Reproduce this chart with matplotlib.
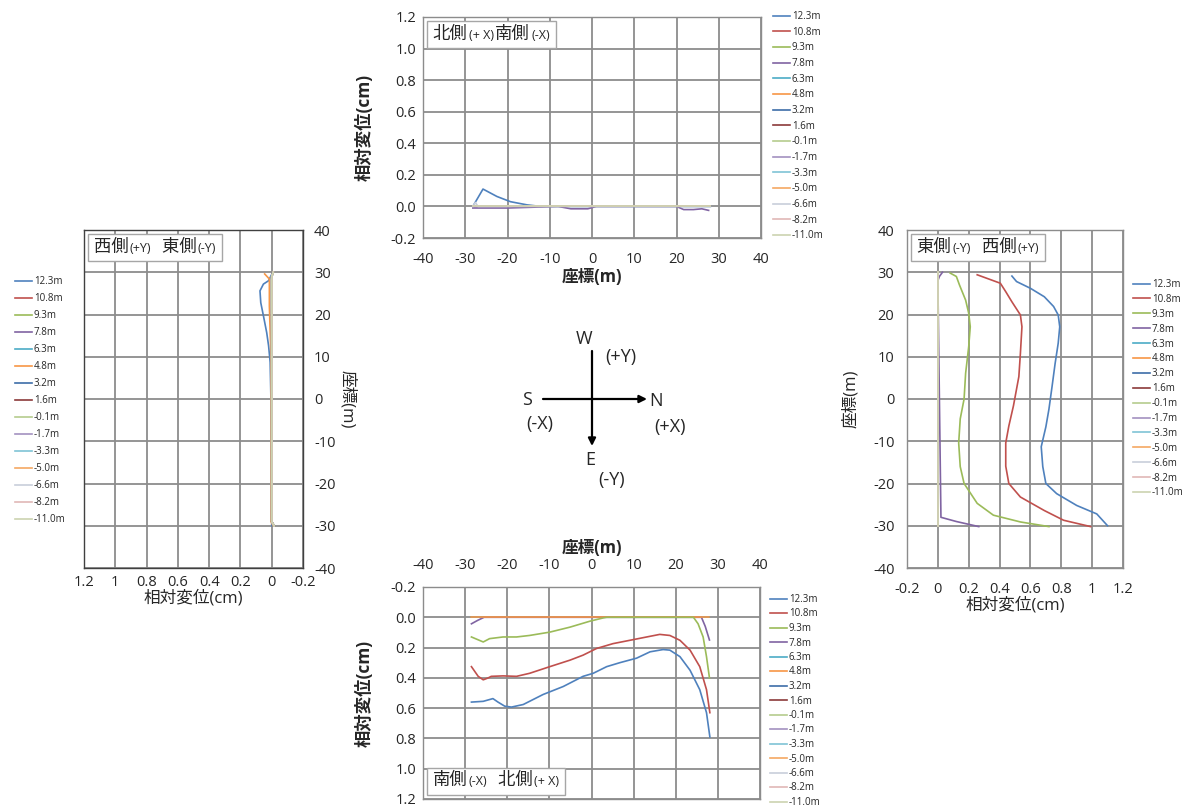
import matplotlib
matplotlib.use('Agg')
import matplotlib.pyplot as plt
from matplotlib.offsetbox import TextArea, HPacker, AnchoredOffsetbox
from matplotlib.ticker import FuncFormatter

plt.rcParams['font.family'] = ['Open Sans', 'Noto Sans CJK JP', 'DejaVu Sans']
plt.rcParams['axes.unicode_minus'] = False

# ---------------- data ----------------
levels = ['12.3m', '10.8m', '9.3m', '7.8m', '6.3m', '4.8m', '3.2m', '1.6m',
          '-0.1m', '-1.7m', '-3.3m', '-5.0m', '-6.6m', '-8.2m', '-11.0m']
colors = ['#4F81BD', '#C0504D', '#9BBB59', '#8064A2', '#4BACC6', '#F79646',
          '#3D6DA8', '#8B3A3A', '#B5CC8E', '#A391C0', '#7FC4D6', '#F5A862',
          '#C8CEDA', '#E0B8B6', '#CCD3B0']

# top panel: 北側(+X)南側(-X)  (coordinate, displacement)
top_c_123 = [-28.2, -25.8, -22.5, -19.3, -15.4, -12.2, -5.0, 5.0, 20.0, 28.0]
top_v_123 = [0.0, 0.11, 0.063, 0.030, 0.010, 0.0, 0.0, 0.0, 0.0, 0.0]
top_c_78 = [-28.2, -20.0, -8.0, -5.0, -1.0, 1.0, 20.0, 21.7, 24.0, 26.0, 27.6]
top_v_78 = [-0.01, -0.01, 0.0, -0.015, -0.015, 0.0, 0.0, -0.02, -0.02, -0.015, -0.025]
top_c_66 = [-28.2, -27.6, -27.0, 28.0]
top_v_66 = [0.0, 0.025, 0.0, 0.0]
top_c_flat = [-28.2, 28.0]
top_v_flat = [0.0, 0.0]

# left panel: 西側(+Y) 東側(-Y)
left_c_123 = [29.5, 28.0, 27.2, 25.6, 22.8, 19.7, 15.7, 12.6, 8.7, 0.0, -30.0]
left_v_123 = [0.0, 0.02, 0.053, 0.075, 0.07, 0.053, 0.032, 0.02, 0.01, 0.005, 0.0]
left_c_48 = [29.6, 28.4, 22.0, 10.0, -29.0, -30.0]
left_v_48 = [0.045, 0.015, 0.015, 0.005, 0.005, -0.01]
left_c_flat = [30.0, 29.0, -29.0, -30.0]
left_v_flat = [-0.01, 0.0, 0.0, -0.015]

# right panel: 東側(-Y) 西側(+Y)
right_c_123 = [29.1, 27.8, 26.2, 24.2, 21.9, 19.9, 17.1, 13.2, 8.4, 2.9, -2.4, -6.6,
               -11.3, -16.0, -20.0, -22.4, -25.2, -27.2, -30.0]
right_v_123 = [0.48, 0.51, 0.60, 0.69, 0.75, 0.78, 0.79, 0.78, 0.76, 0.74, 0.72, 0.70,
               0.67, 0.68, 0.70, 0.77, 0.90, 1.03, 1.10]
right_c_108 = [29.4, 27.4, 25.4, 23.0, 19.9, 17.1, 10.8, 5.3, -1.6, -6.4, -10.4, -15.9,
               -20.0, -23.2, -26.4, -28.7, -30.2]
right_v_108 = [0.255, 0.405, 0.44, 0.48, 0.535, 0.545, 0.535, 0.525, 0.49, 0.46, 0.44,
               0.44, 0.46, 0.535, 0.69, 0.815, 0.99]
right_c_93 = [29.8, 29.0, 28.0, 27.0, 23.4, 20.3, 17.1, 12.4, 6.1, 0.0, -4.7, -10.4,
              -16.0, -20.0, -24.7, -27.5, -29.1, -30.2]
right_v_93 = [0.08, 0.12, 0.13, 0.14, 0.18, 0.20, 0.21, 0.20, 0.18, 0.17, 0.145, 0.135,
              0.145, 0.17, 0.255, 0.36, 0.535, 0.72]
right_c_78 = [30.0, 29.0, 28.0, -28.0, -29.0, -30.2]
right_v_78 = [0.03, 0.01, 0.0, 0.02, 0.12, 0.265]
right_c_flat = [30.0, -30.0]
right_v_flat = [0.0, 0.0]

# bottom panel: 南側(-X) 北側(+X)
bot_c_123 = [-28.5, -25.7, -23.4, -22.2, -20.6, -19.0, -16.2, -11.5, -6.7, -2.0, 0.4,
             3.6, 6.7, 10.7, 13.9, 17.0, 18.6, 21.0, 23.4, 25.7, 27.3, 28.1]
bot_v_123 = [0.56, 0.555, 0.537, 0.56, 0.587, 0.593, 0.576, 0.51, 0.457, 0.39, 0.37,
             0.326, 0.30, 0.27, 0.228, 0.213, 0.217, 0.26, 0.35, 0.478, 0.63, 0.79]
bot_c_108 = [-28.5, -26.9, -25.7, -24.5, -23.8, -21.0, -17.8, -14.7, -9.9, -5.1, -2.0,
             1.2, 5.1, 9.1, 13.1, 16.2, 18.6, 21.0, 23.4, 25.7, 27.3, 28.1]
bot_v_108 = [0.326, 0.39, 0.413, 0.40, 0.39, 0.387, 0.39, 0.37, 0.326, 0.283, 0.25,
             0.206, 0.174, 0.152, 0.13, 0.113, 0.12, 0.152, 0.217, 0.326, 0.478, 0.63]
bot_c_93 = [-28.5, -25.7, -24.2, -21.0, -17.8, -14.7, -9.9, -5.1, -0.4, 2.8, 3.6,
            24.2, 25.3, 26.5, 27.3, 28.0]
bot_v_93 = [0.13, 0.163, 0.141, 0.13, 0.13, 0.12, 0.098, 0.065, 0.026, 0.004, 0.0,
            0.0, 0.043, 0.13, 0.26, 0.40]
bot_c_78 = [-28.5, -27.0, -25.5, 26.1, 27.0, 28.0]
bot_v_78 = [0.043, 0.02, 0.0, 0.0, 0.06, 0.15]
bot_c_flat = [-28.5, 28.0]
bot_v_flat = [0.0, 0.0]

coord_ticks = [-40, -30, -20, -10, 0, 10, 20, 30, 40]
disp_ticks = [-0.2, 0.0, 0.2, 0.4, 0.6, 0.8, 1.0, 1.2]

# ---------------- figure ----------------
W, H = 1191, 809
fig = plt.figure(figsize=(W / 100, H / 100), dpi=100)
TXT = '#262626'


def px_axes(l, t, r, b):
    return fig.add_axes([l / W, 1 - b / H, (r - l) / W, (b - t) / H])


def style(ax, spine='#8c8c8c'):
    ax.grid(True, color='#8c8c8c', lw=1.3)
    ax.set_axisbelow(True)
    for s in ax.spines.values():
        s.set_color(spine)
        s.set_linewidth(1.0)
    ax.tick_params(length=0, labelsize=10.5, colors=TXT, pad=5)


def gen_fmt(v, pos):
    r = round(v, 1)
    if abs(r) < 1e-9:
        return '0'
    return f'{r:g}'


def one_fmt(v, pos):
    r = round(v, 1)
    if abs(r) < 1e-9:
        r = 0.0
    return f'{r:.1f}'


def side_box(ax, parts, loc, anchor):
    children = [TextArea(t, textprops=dict(size=s, color=TXT)) for t, s in parts]
    pack = HPacker(children=children, align='baseline', pad=0, sep=1)
    box = AnchoredOffsetbox(loc=loc, child=pack, pad=0.4, borderpad=0.3,
                            frameon=True, bbox_to_anchor=anchor,
                            bbox_transform=ax.transAxes)
    box.patch.set_edgecolor('#a6a6a6')
    box.patch.set_linewidth(1.0)
    box.zorder = 5
    ax.add_artist(box)


def draw_series(ax, specific, flat_c, flat_v, horizontal, order=None):
    idxs = order if order is not None else range(len(levels))
    hmap = {}
    for i in idxs:
        c, v = specific.get(levels[i], (flat_c, flat_v))
        if horizontal:
            h, = ax.plot(c, v, color=colors[i], lw=1.2, label=levels[i])
        else:
            h, = ax.plot(v, c, color=colors[i], lw=1.2, label=levels[i])
        hmap[i] = h
    return [hmap[i] for i in range(len(levels))]


def add_legend(ax, handles, x, y, spacing):
    leg = ax.legend(handles, levels, loc='upper left', bbox_to_anchor=(x / W, 1 - y / H),
                    bbox_transform=fig.transFigure, frameon=False, fontsize=7,
                    handlelength=1.7, handletextpad=0.25, labelspacing=spacing,
                    borderaxespad=0, borderpad=0)
    for t in leg.get_texts():
        t.set_color(TXT)


CJK = 12.5
PAR = 9

# ---- top panel
ax_t = px_axes(423, 17, 761, 238)
style(ax_t)
hs = draw_series(ax_t, {'12.3m': (top_c_123, top_v_123), '7.8m': (top_c_78, top_v_78),
                        '-6.6m': (top_c_66, top_v_66)},
                 top_c_flat, top_v_flat, True)
ax_t.set_xlim(-40, 40)
ax_t.set_ylim(-0.2, 1.2)
ax_t.set_xticks(coord_ticks)
ax_t.set_yticks(disp_ticks)
ax_t.yaxis.set_major_formatter(FuncFormatter(one_fmt))
ax_t.tick_params(axis='x', pad=10)
ax_t.set_xlabel('座標(m)', fontsize=12, fontweight='bold', color=TXT, labelpad=1)
ax_t.set_ylabel('相対変位(cm)', fontsize=12.5, fontweight='bold', color=TXT, labelpad=12)
side_box(ax_t, [('北側', CJK), ('(+ X)', PAR), ('南側', CJK), ('(-X)', PAR)],
         'upper left', (0, 1))
add_legend(ax_t, hs, 773, 11, 0.48)

# ---- left panel
ax_l = px_axes(84, 230, 303, 568)
style(ax_l, spine='#404040')
hs = draw_series(ax_l, {'12.3m': (left_c_123, left_v_123), '4.8m': (left_c_48, left_v_48)},
                 left_c_flat, left_v_flat, False)
ax_l.set_xlim(1.2, -0.2)
ax_l.set_ylim(-40, 40)
ax_l.set_xticks(disp_ticks)
ax_l.set_yticks(coord_ticks)
ax_l.xaxis.set_major_formatter(FuncFormatter(gen_fmt))
ax_l.yaxis.tick_right()
ax_l.yaxis.set_label_position('right')
ax_l.tick_params(axis='y', pad=8)
ax_l.tick_params(axis='x', pad=5)
ax_l.set_xlabel('相対変位(cm)', fontsize=12, color=TXT, labelpad=0)
ax_l.set_ylabel('座標(m)', fontsize=12, color=TXT, rotation=-90, labelpad=14)
side_box(ax_l, [('西側', CJK), ('(+Y)', PAR), ('  東側', CJK), ('(-Y)', PAR)],
         'upper left', (0, 1))
add_legend(ax_l, hs, 15, 276, 0.62)

# ---- right panel
ax_r = px_axes(907, 230, 1123, 568)
style(ax_r)
hs = draw_series(ax_r, {'12.3m': (right_c_123, right_v_123),
                        '10.8m': (right_c_108, right_v_108),
                        '9.3m': (right_c_93, right_v_93),
                        '7.8m': (right_c_78, right_v_78)},
                 right_c_flat, right_v_flat, False)
ax_r.set_xlim(-0.2, 1.2)
ax_r.set_ylim(-40, 40)
ax_r.set_xticks(disp_ticks)
ax_r.set_yticks(coord_ticks)
ax_r.xaxis.set_major_formatter(FuncFormatter(gen_fmt))
ax_r.tick_params(axis='y', pad=9)
ax_r.tick_params(axis='x', pad=10)
ax_r.set_xlabel('相対変位(cm)', fontsize=12, color=TXT, labelpad=0)
ax_r.set_ylabel('座標(m)', fontsize=12, color=TXT, labelpad=10)
side_box(ax_r, [('東側', CJK), ('(-Y)', PAR), ('  西側', CJK), ('(+Y)', PAR)],
         'upper left', (0, 1))
add_legend(ax_r, hs, 1133, 279, 0.40)

# ---- bottom panel
ax_b = px_axes(423, 587, 760, 799)
style(ax_b)
order = [14, 13, 12, 11, 10, 9, 8, 7, 6, 4, 3, 5, 2, 1, 0]
hs = draw_series(ax_b, {'12.3m': (bot_c_123, bot_v_123), '10.8m': (bot_c_108, bot_v_108),
                        '9.3m': (bot_c_93, bot_v_93), '7.8m': (bot_c_78, bot_v_78)},
                 bot_c_flat, bot_v_flat, True, order=order)
ax_b.set_xlim(-40, 40)
ax_b.set_ylim(1.2, -0.2)
ax_b.set_xticks(coord_ticks)
ax_b.set_yticks(disp_ticks)
ax_b.yaxis.set_major_formatter(FuncFormatter(one_fmt))
ax_b.xaxis.tick_top()
ax_b.xaxis.set_label_position('top')
ax_b.tick_params(axis='x', pad=10)
ax_b.set_xlabel('座標(m)', fontsize=12, fontweight='bold', color=TXT, labelpad=4)
ax_b.set_ylabel('相対変位(cm)', fontsize=12.5, fontweight='bold', color=TXT, labelpad=12)
side_box(ax_b, [('南側', CJK), ('(-X)', PAR), ('  北側', CJK), ('(+ X)', PAR)],
         'lower left', (0, 0))
add_legend(ax_b, hs, 770, 594, 0.36)

# ---- compass
ax_c = fig.add_axes([0, 0, 1, 1], facecolor='none')
ax_c.set_xlim(0, W)
ax_c.set_ylim(H, 0)
ax_c.axis('off')
arrow = dict(arrowstyle='-|>', color='black', lw=1.6, mutation_scale=11, shrinkA=0, shrinkB=0)
ax_c.annotate('', xy=(647, 399), xytext=(543, 399), arrowprops=arrow)
ax_c.annotate('', xy=(592, 446), xytext=(592, 351), arrowprops=arrow)
cfs = 13
for s, x, y in [('W', 584, 339), ('(+Y)', 621, 357), ('S', 527, 400), ('N', 656, 401),
                ('(-X)', 540, 424), ('(+X)', 670, 427), ('E', 590, 460), ('(-Y)', 612, 480)]:
    ax_c.text(x, y, s, fontsize=cfs, color=TXT, ha='center', va='center')

fig.savefig('out.png', dpi=100)
